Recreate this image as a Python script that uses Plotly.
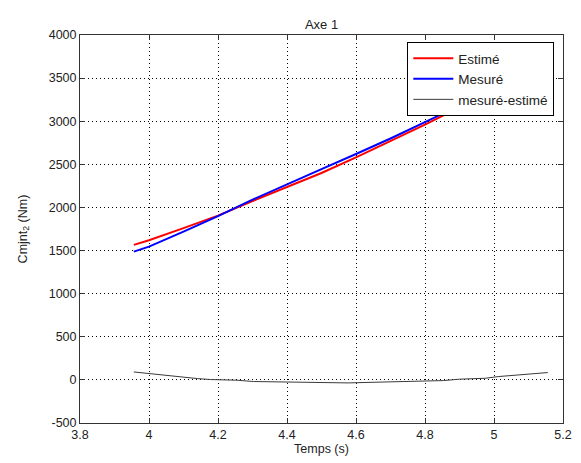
import plotly.graph_objects as go

# Estimé / Mesuré (Cmjnt2, Nm)
t_main = [3.956, 4.0, 4.1, 4.2, 4.3, 4.4, 4.5, 4.6, 4.7, 4.8, 4.9, 5.0, 5.1, 5.156]
estime = [1566, 1620, 1760, 1905, 2075, 2240, 2400, 2580, 2770, 2960, 3160, 3350, 3540, 3650]
mesure = [1488, 1545, 1720, 1900, 2090, 2270, 2445, 2620, 2800, 2990, 3180, 3370, 3560, 3670]

# mesuré-estimé
t_diff = [3.956, 4.0, 4.018, 4.061, 4.104, 4.141, 4.179, 4.255, 4.303, 4.454, 4.577,
          4.739, 4.853, 4.9, 4.975, 5.014, 5.06, 5.1, 5.156]
diff = [92, 73, 62, 46, 31, 15, 4, -4, -19, -27, -35, -19, -8, 8, 19, 39, 54, 70, 85]

x_ticks = [3.8, 4.0, 4.2, 4.4, 4.6, 4.8, 5.0, 5.2]
x_tick_text = ["3.8", "4", "4.2", "4.4", "4.6", "4.8", "5", "5.2"]
y_ticks = [-500, 0, 500, 1000, 1500, 2000, 2500, 3000, 3500, 4000]
y_tick_text = ["-500", "0", "500", "1000", "1500", "2000", "2500", "3000", "3500", "4000"]

font_family = "Liberation Sans, Arial, sans-serif"
txt = "#222222"

fig = go.Figure()
fig.add_trace(go.Scatter(x=t_main, y=estime, mode="lines", name="Estimé", legendgroup="a",
                         line=dict(color="#ff0000", width=2)))
fig.add_trace(go.Scatter(x=t_main, y=mesure, mode="lines", name="Mesuré", legendgroup="b",
                         line=dict(color="#0000ff", width=2)))
fig.add_trace(go.Scatter(x=t_diff, y=diff, mode="lines", name="mesuré-estimé", legendgroup="c",
                         line=dict(color="#3a3a3a", width=1)))

axis_common = dict(
    showline=True, linecolor="#333333", linewidth=1, mirror="ticks",
    ticks="inside", ticklen=5, tickcolor="#333333",
    showgrid=True, gridcolor="#000000", gridwidth=1, griddash="1px,3px",
    zeroline=False, tickfont=dict(family=font_family, size=12.5, color=txt),
)

fig.update_layout(
    width=581, height=463,
    margin=dict(l=80, r=9, t=35, b=40),
    paper_bgcolor="white", plot_bgcolor="white",
    font=dict(family=font_family, size=12, color=txt),
    title=dict(text="Axe 1", x=0.5, xref="paper", xanchor="center",
               y=1, yref="container", yanchor="top", pad=dict(t=20),
               font=dict(family=font_family, size=13, color=txt)),
    xaxis=dict(range=[3.8, 5.2], tickvals=x_ticks, ticktext=x_tick_text,
               title=dict(text="Temps (s)", standoff=3,
                          font=dict(family=font_family, size=12.5, color=txt)),
               **axis_common),
    yaxis=dict(range=[-500, 4000], tickvals=y_ticks, ticktext=y_tick_text,
               title=dict(text="Cmjnt<sub>2</sub> (Nm)", standoff=18,
                          font=dict(family=font_family, size=12.5, color=txt)),
               **axis_common),
    legend=dict(x=0.982, y=0.982, xanchor="right", yanchor="top",
                bgcolor="white", bordercolor="#000000", borderwidth=1,
                font=dict(family=font_family, size=13.5, color=txt),
                tracegroupgap=0, itemwidth=40),
    showlegend=True,
)

fig.write_html("out.html", config={"displayModeBar": False},
               post_script="document.body.style.margin='0';document.body.style.overflow='hidden';")
